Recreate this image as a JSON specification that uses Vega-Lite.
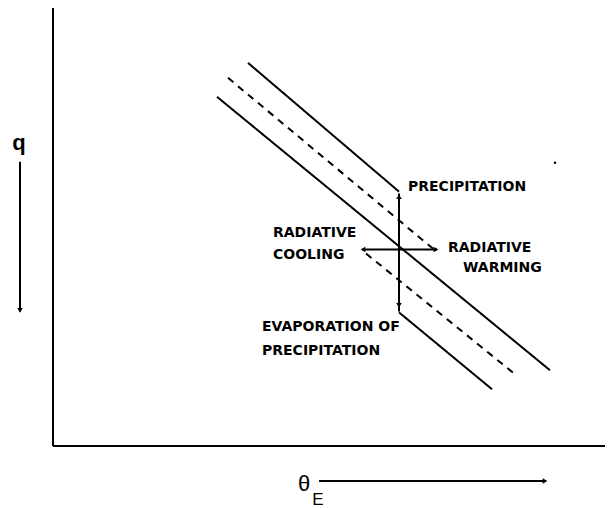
{
  "$schema": "https://vega.github.io/schema/vega-lite/v6.json",
  "width": 613,
  "height": 508,
  "autosize": {"type": "fit", "contains": "padding"},
  "padding": 0,
  "background": "white",
  "config": {"view": {"stroke": null}},
  "datasets": {
    "segments": [
      {"x1": 53, "y1": 8, "x2": 53, "y2": 447, "kind": "frame"},
      {"x1": 53, "y1": 447, "x2": 605, "y2": 447, "kind": "frame"},
      {"x1": 217, "y1": 97, "x2": 550, "y2": 371, "kind": "solid"},
      {"x1": 248, "y1": 63, "x2": 399, "y2": 192, "kind": "solid"},
      {"x1": 399, "y1": 313, "x2": 492, "y2": 390, "kind": "solid"},
      {"x1": 228, "y1": 78, "x2": 434, "y2": 250, "kind": "dashed"},
      {"x1": 366, "y1": 254, "x2": 515, "y2": 375, "kind": "dashed"},
      {"x1": 399, "y1": 194, "x2": 399, "y2": 312, "kind": "arrow"},
      {"x1": 399, "y1": 250, "x2": 437, "y2": 250, "kind": "arrow"},
      {"x1": 399, "y1": 250, "x2": 362, "y2": 250, "kind": "arrow"},
      {"x1": 20, "y1": 162, "x2": 20, "y2": 312, "kind": "arrow"},
      {"x1": 319, "y1": 482, "x2": 546, "y2": 482, "kind": "arrow"}
    ],
    "heads": [
      {"x": 399, "y": 197, "dir": "up"},
      {"x": 399, "y": 306, "dir": "down"},
      {"x": 436, "y": 250, "dir": "right"},
      {"x": 363, "y": 250, "dir": "left"},
      {"x": 20, "y": 311, "dir": "down"},
      {"x": 545, "y": 482, "dir": "right"}
    ],
    "labels": [
      {"x": 408, "y": 187, "label": "PRECIPITATION"},
      {"x": 273, "y": 233, "label": "RADIATIVE"},
      {"x": 273, "y": 256, "label": "COOLING"},
      {"x": 448, "y": 248, "label": "RADIATIVE"},
      {"x": 463, "y": 269, "label": "WARMING"},
      {"x": 262, "y": 328, "label": "EVAPORATION OF"},
      {"x": 262, "y": 352, "label": "PRECIPITATION"}
    ],
    "qlabel": [
      {"x": 19, "y": 143, "label": "q"}
    ],
    "thetalabel": [
      {"x": 304, "y": 485, "label": "θ", "role": "big"},
      {"x": 318, "y": 501, "label": "E", "role": "sub"}
    ],
    "specks": [
      {"x": 555, "y": 163}
    ]
  },
  "layer": [
    {
      "data": {"name": "segments"},
      "mark": {"type": "rule", "color": "black", "strokeCap": "butt"},
      "encoding": {
        "x": {"field": "x1", "type": "quantitative", "scale": {"domain": [0, 613], "nice": false, "zero": false}, "axis": null},
        "y": {"field": "y1", "type": "quantitative", "scale": {"domain": [0, 508], "nice": false, "zero": false, "reverse": true}, "axis": null},
        "x2": {"field": "x2"},
        "y2": {"field": "y2"},
        "strokeDash": {"field": "kind", "type": "nominal", "scale": {"domain": ["frame", "solid", "dashed", "arrow"], "range": [[1, 0], [1, 0], [7, 6], [1, 0]]}, "legend": null},
        "strokeWidth": {"field": "kind", "type": "ordinal", "scale": {"domain": ["frame", "solid", "dashed", "arrow"], "range": [2, 2, 2.6, 1.6]}, "legend": null}
      }
    },
    {
      "data": {"name": "heads"},
      "mark": {"type": "point", "filled": true, "color": "black", "opacity": 1},
      "encoding": {
        "x": {"field": "x", "type": "quantitative"},
        "y": {"field": "y", "type": "quantitative"},
        "shape": {"field": "dir", "type": "nominal", "scale": {"domain": ["up", "down", "left", "right"], "range": ["triangle-up", "triangle-down", "triangle-left", "triangle-right"]}, "legend": null},
        "size": {"value": 30}
      }
    },
    {
      "data": {"name": "labels"},
      "mark": {"type": "text", "align": "left", "baseline": "middle", "font": "DejaVu Sans", "fontWeight": "bold", "fontSize": 14, "color": "black"},
      "encoding": {
        "x": {"field": "x", "type": "quantitative"},
        "y": {"field": "y", "type": "quantitative"},
        "text": {"field": "label"}
      }
    },
    {
      "data": {"name": "qlabel"},
      "mark": {"type": "text", "align": "center", "baseline": "middle", "font": "Liberation Sans", "fontWeight": "bold", "fontSize": 22, "color": "black"},
      "encoding": {
        "x": {"field": "x", "type": "quantitative"},
        "y": {"field": "y", "type": "quantitative"},
        "text": {"field": "label"}
      }
    },
    {
      "data": {"name": "thetalabel"},
      "mark": {"type": "text", "align": "center", "baseline": "middle", "font": "Liberation Sans", "color": "black"},
      "encoding": {
        "x": {"field": "x", "type": "quantitative"},
        "y": {"field": "y", "type": "quantitative"},
        "text": {"field": "label"},
        "size": {"field": "role", "type": "ordinal", "scale": {"domain": ["big", "sub"], "range": [22, 17]}, "legend": null}
      }
    },
    {
      "data": {"name": "specks"},
      "mark": {"type": "point", "filled": true, "color": "black", "opacity": 1, "shape": "circle"},
      "encoding": {
        "x": {"field": "x", "type": "quantitative"},
        "y": {"field": "y", "type": "quantitative"},
        "size": {"value": 6}
      }
    }
  ]
}
